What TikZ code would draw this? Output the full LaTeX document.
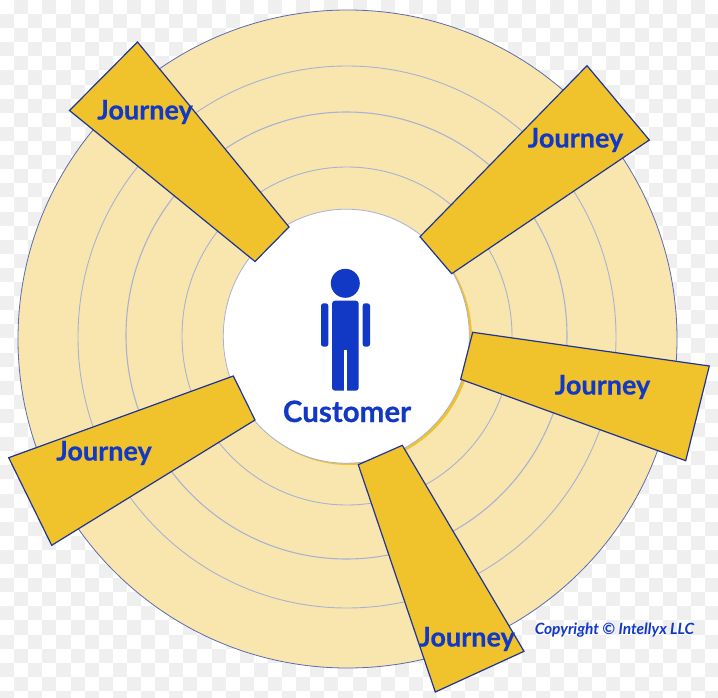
\documentclass[tikz,border=0pt]{standalone}
\usepackage{fontspec}
\setmainfont{Lato}[BoldFeatures={FakeBold=0.5}]
\definecolor{ringfill}{HTML}{F8E6AE}
\definecolor{ringline}{HTML}{A9B2D2}
\definecolor{outerline}{HTML}{5A6CB0}
\definecolor{gold}{HTML}{F0C32C}
\definecolor{goldline}{HTML}{1E3594}
\definecolor{inkblue}{HTML}{1238C6}
\definecolor{checker}{HTML}{EFEFEF}
\tikzset{
  ring/.style={draw=ringline,line width=0.9pt},
  beam/.style={fill=gold,draw=goldline,line width=1.2pt,line join=miter},
  journey/.style={text=inkblue,font=\bfseries\fontsize{27}{27}\selectfont,inner sep=0pt,anchor=base},
  person/.style={fill=inkblue,draw=none}
}
\begin{document}
\begin{tikzpicture}[x=1pt,y=-1pt]
\useasboundingbox (0,0) rectangle (718,698);
\fill[white] (0,0) rectangle (718,698);
% checker background
\foreach \i in {0,...,50}{\foreach \j in {0,...,49}{
  \pgfmathparse{int(mod(\i+\j,2))}
  \ifnum\pgfmathresult=1
    \fill[checker] ({\i*14.1},{\j*14.1}) rectangle ({(\i+1)*14.1},{(\j+1)*14.1});
  \fi
}}
% rings
\fill[ringfill,draw=outerline,line width=0.8pt] (347.5,339) ellipse [x radius=329.5,y radius=329];
\draw[ring] (347,337) ellipse [x radius=269,y radius=271];
\draw[ring,line width=1.1pt] (346.5,335.5) ellipse [x radius=220.5,y radius=223.5];
\draw[ring] (347,336) ellipse [x radius=165,y radius=169];
% hub
\fill[gold] (348.5,338) ellipse [x radius=123.5,y radius=127];
\fill[white,draw=ringline,line width=0.8pt] (346.3,336.2) ellipse [x radius=123,y radius=127];
% beams
\draw[beam] (137.5,42) -- (69.5,110.5) -- (255,261.5) -- (289,227) -- cycle;
\draw[beam] (587,65.7) -- (649.3,140) -- (451.7,273.7) -- (420,236.7) -- cycle;
\draw[beam] (472.7,332.3) -- (709.3,366) -- (685.7,460.7) -- (460.7,379.3) -- cycle;
\draw[beam] (358.3,464.7) -- (402.3,445.3) -- (524,651.3) -- (435.3,692) -- cycle;
\draw[beam] (233.3,376) -- (255,420) -- (51.7,545.3) -- (8.7,457.7) -- cycle;
% person
\fill[person] (345.3,283.3) circle (14.5);
\fill[person,rounded corners=3pt] (332,300.7) rectangle (358.7,390.7);
\fill[white] (344,350) rectangle (347.3,392);
\fill[person,rounded corners=2.5pt] (321,303.3) rectangle (328.3,346.7);
\fill[person,rounded corners=2.5pt] (362.7,303.3) rectangle (370,346.7);
% labels
\node[journey,font=\bfseries\fontsize{29.5}{29.5}\selectfont] (customer) at (347,422) {Customer};
\node[journey] (j1) at (145,119.5) {Journey};
\node[journey] (j2) at (575.5,147.5) {Journey};
\node[journey] (j3) at (602.5,394.5) {Journey};
\node[journey] (j4) at (104,460.5) {Journey};
\node[journey] (j5) at (467,646.5) {Journey};
\node[text=inkblue,font=\bfseries\itshape\fontsize{15.5}{15.5}\selectfont,inner sep=0pt,anchor=base] (copy) at (614.5,634.5) {Copyright © Intellyx LLC};
\end{tikzpicture}
\end{document}
